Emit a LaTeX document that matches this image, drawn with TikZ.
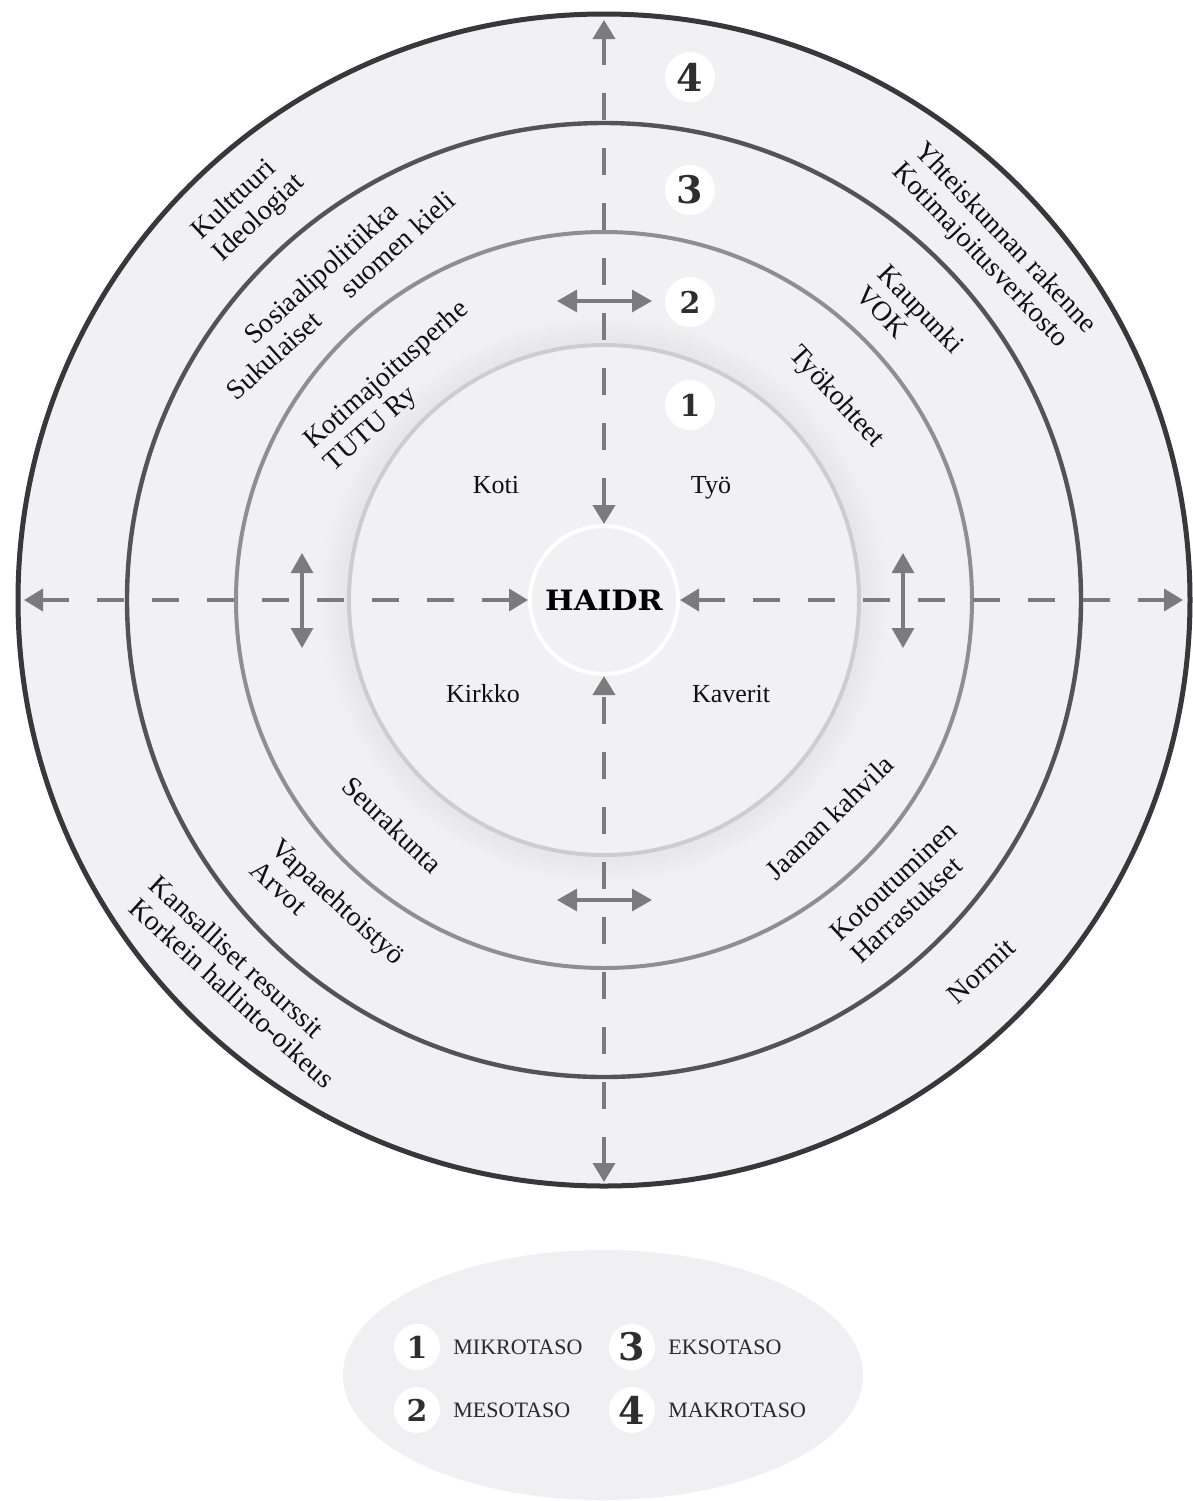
\documentclass[tikz,border=0pt]{standalone}
\usepackage{fontspec}
\setmainfont{Liberation Serif}
\newfontfamily\numfont{DejaVu Serif}
\usetikzlibrary{arrows.meta}
\definecolor{bgc}{HTML}{F1F1F3}
\definecolor{legbg}{HTML}{F0F0F2}
\definecolor{ringA}{HTML}{CDCDCF}
\definecolor{ringB}{HTML}{8F8F91}
\definecolor{ringC}{HTML}{545456}
\definecolor{ringD}{HTML}{38383A}
\definecolor{arrc}{HTML}{7B7B7D}
\definecolor{txtc}{HTML}{101010}
\definecolor{digitc}{HTML}{2E2E2E}
\definecolor{legtc}{HTML}{2A2A2A}
\begin{document}
\begin{tikzpicture}[x=0.5pt,y=-0.5pt,
  dashline/.style={draw=arrc,line width=1.9pt,dash pattern=on 13.5pt off 14pt,
    arrows={Triangle[length=9.5pt,width=11pt]-Triangle[length=9.5pt,width=11pt]}},
  solidarrow/.style={draw=arrc,line width=1.6pt,
    arrows={Triangle[length=10pt,width=11pt]-Triangle[length=10pt,width=11pt]}},
  numbadge/.style={circle,fill=white,minimum size=25pt,inner sep=0pt,text=digitc,
    font=\numfont\bfseries\fontsize{15}{15}\selectfont},
  bignum/.style={font=\numfont\bfseries\fontsize{19}{19}\selectfont},
  legbadge/.style={circle,fill=white,minimum size=23pt,inner sep=0pt,text=digitc,
    font=\numfont\bfseries\fontsize{15}{15}\selectfont},
  lbl/.style={text=txtc,inner sep=0pt,font=\fontsize{14}{15}\selectfont},
  inlbl/.style={text=txtc,inner sep=0pt,font=\fontsize{13}{13}\selectfont},
  legtxt/.style={text=legtc,inner sep=0pt,anchor=west,font=\fontsize{11}{11}\selectfont}]
\useasboundingbox (0,0) rectangle (1193,1501);
\fill[white] (0,0) rectangle (1193,1501);
\coordinate (C) at (604,600);
% rings
\fill[bgc] (C) circle[radius=586];
\foreach \i [evaluate=\i as \op using 0.04*(1-\i/14)] in {0,...,13}{
  \draw[black,opacity=\op,line width=1pt] (C) circle[radius={257+2*\i}];
}
\draw[ringD,line width=2.5pt] (C) circle[radius=586];
\draw[ringC,line width=2.2pt] (C) circle[radius=477];
\draw[ringB,line width=2pt] (C) circle[radius=368];
\draw[ringA,line width=2pt] (C) circle[radius=255];
% centre
\node[circle,draw=white,line width=2pt,fill=bgc,minimum size=74pt,inner sep=0pt,
  text=black,font=\numfont\bfseries\fontsize{14}{14}\selectfont] (haidr) at (C) {\scalebox{1.08}[1]{HAIDR}};
% dashed axes
\coordinate (Ltop) at (604,20);
\coordinate (Lbot) at (604,1182);
\coordinate (Lleft) at (24,600);
\coordinate (Lright) at (1183,600);
\draw[dashline] (Ltop) -- (haidr.north);
\draw[dashline] (Lbot) -- (haidr.south);
\draw[dashline] (Lleft) -- (haidr.west);
\draw[dashline] (Lright) -- (haidr.east);
% small double arrows
\coordinate (ta) at (557,301); \coordinate (tb) at (652,301);
\coordinate (ba) at (557,900); \coordinate (bb) at (652,900);
\coordinate (la) at (302,553); \coordinate (lb) at (302,648);
\coordinate (ra) at (903,553); \coordinate (rb) at (903,648);
\draw[solidarrow] (ta) -- (tb);
\draw[solidarrow] (ba) -- (bb);
\draw[solidarrow] (la) -- (lb);
\draw[solidarrow] (ra) -- (rb);
% level numbers
\node[numbadge,bignum] (n4) at (690,77) {4};
\node[numbadge,bignum] (n3) at (690,190) {3};
\node[numbadge] (n2) at (690,302) {2};
\node[numbadge] (n1) at (690,405) {1};
% inner labels
\node[inlbl,anchor=base] (koti) at (496,493) {Koti};
\node[inlbl,anchor=base] (tyo) at (711,493) {Työ};
\node[inlbl,anchor=base] (kirkko) at (483,702) {Kirkko};
\node[inlbl,anchor=base] (kaverit) at (731,702) {Kaverit};
% upper left
\node[lbl,align=left,rotate=43] (kult) at (249,207.5) {Kulttuuri\\Ideologiat};
\node[lbl,align=center,rotate=42] (sos) at (330.5,284) {Sosiaalipolitiikka\\Sukulaiset\hspace{1.3em}suomen kieli};
\node[lbl,align=left,rotate=41.5] (koti2) at (397,387) {Kotimajoitusperhe\\TUTU Ry};
% upper right
\node[lbl,align=left,rotate=-46.5] (yht) at (993.6,248.8) {Yhteiskunnan rakenne\\Kotimajoitusverkosto};
\node[lbl,align=left,rotate=-46.5] (kaup) at (910.6,319.3) {Kaupunki\\VOK};
\node[lbl,rotate=-47.5] (tyok) at (836,397.5) {Työkohteet};
% lower left
\node[lbl,rotate=-43.5] (seur) at (392.5,825) {Seurakunta};
\node[lbl,align=left,rotate=-42.5] (vapa) at (328.4,912) {Vapaaehtoistyö\\Arvot};
\node[lbl,align=left,rotate=-42.5] (kans) at (242.6,982) {Kansalliset resurssit\\Korkein hallinto-oikeus};
% lower right
\node[lbl,rotate=44] (jaan) at (829.5,817.5) {Jaanan kahvila};
\node[lbl,align=left,rotate=43] (koto) at (903.7,892) {Kotoutuminen\\Harrastukset};
\node[lbl,rotate=42.5] (norm) at (981,971) {Normit};
% legend
\fill[legbg] (603,1375) ellipse[x radius=260,y radius=125];
\node[legbadge] (l1) at (417,1347) {1};
\node[legbadge] (l2) at (417,1410) {2};
\node[legbadge,bignum] (l3) at (632,1347) {3};
\node[legbadge,bignum] (l4) at (632,1410) {4};
\node[legtxt] (t1) at (453,1347) {MIKROTASO};
\node[legtxt] (t2) at (453,1410) {MESOTASO};
\node[legtxt] (t3) at (668,1347) {EKSOTASO};
\node[legtxt] (t4) at (668,1410) {MAKROTASO};
\end{tikzpicture}
\end{document}
